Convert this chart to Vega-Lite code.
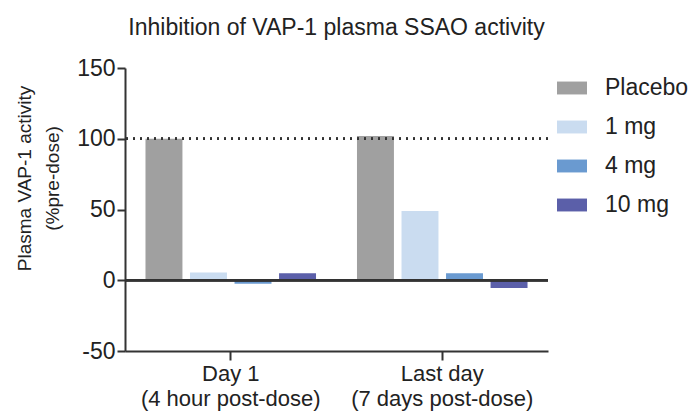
{
  "$schema": "https://vega.github.io/schema/vega-lite/v6.json",
  "width": 423,
  "height": 283,
  "autosize": {"type": "none"},
  "padding": {"left": 125, "top": 68, "right": 146, "bottom": 62},
  "background": "white",
  "title": {
    "text": "Inhibition of VAP-1 plasma SSAO activity",
    "font": "Liberation Sans",
    "fontSize": 23,
    "fontWeight": "normal",
    "color": "#222",
    "anchor": "middle",
    "offset": 17
  },
  "data": {
    "values": [
      {"time": "Day 1|(4 hour post-dose)", "group": "Placebo", "activity": 100},
      {"time": "Day 1|(4 hour post-dose)", "group": "1 mg", "activity": 5.5},
      {"time": "Day 1|(4 hour post-dose)", "group": "4 mg", "activity": -2.5},
      {"time": "Day 1|(4 hour post-dose)", "group": "10 mg", "activity": 5},
      {"time": "Last day|(7 days post-dose)", "group": "Placebo", "activity": 102},
      {"time": "Last day|(7 days post-dose)", "group": "1 mg", "activity": 49},
      {"time": "Last day|(7 days post-dose)", "group": "4 mg", "activity": 5},
      {"time": "Last day|(7 days post-dose)", "group": "10 mg", "activity": -5.5}
    ]
  },
  "config": {
    "view": {"stroke": null},
    "axis": {
      "grid": false,
      "domainColor": "#333",
      "domainWidth": 2,
      "tickColor": "#333",
      "tickWidth": 2,
      "labelFont": "Liberation Sans",
      "labelColor": "#222",
      "titleFont": "Liberation Sans",
      "titleColor": "#222",
      "titleFontWeight": "normal"
    },
    "legend": {
      "labelFont": "Liberation Sans",
      "labelColor": "#222"
    }
  },
  "layer": [
    {
      "mark": {"type": "bar"},
      "encoding": {
        "x": {
          "field": "time",
          "type": "nominal",
          "sort": null,
          "scale": {"paddingInner": 0, "paddingOuter": 0},
          "axis": {
            "title": null,
            "labelAngle": 0,
            "labelExpr": "split(datum.label, '|')",
            "labelFontSize": 22,
            "labelLineHeight": 25,
            "labelPadding": 3,
            "labelLimit": 400,
            "labelOverlap": false,
            "tickSize": 9
          }
        },
        "xOffset": {
          "field": "group",
          "type": "nominal",
          "sort": ["Placebo", "1 mg", "4 mg", "10 mg"],
          "scale": {"paddingInner": 0.17, "paddingOuter": 0.46}
        },
        "y": {
          "field": "activity",
          "type": "quantitative",
          "scale": {"domain": [-50, 150], "nice": false, "zero": false},
          "axis": {
            "values": [-50, 0, 50, 100, 150],
            "labelExpr": "'' + datum.value",
            "title": ["Plasma VAP-1 activity", "(%pre-dose)"],
            "titleFontSize": 19,
            "titleLineHeight": 28,
            "titlePadding": 14,
            "titleY": 110,
            "labelFontSize": 23,
            "labelPadding": 2,
            "tickSize": 8
          }
        },
        "color": {
          "field": "group",
          "type": "nominal",
          "sort": ["Placebo", "1 mg", "4 mg", "10 mg"],
          "scale": {
            "domain": ["Placebo", "1 mg", "4 mg", "10 mg"],
            "range": ["#a0a0a0", "#cadcf0", "#6a9ad0", "#5b5fa9"]
          },
          "legend": {
            "title": null,
            "orient": "none",
            "legendX": 432,
            "legendY": 5,
            "symbolType": "M-1,-0.43H1V0.43H-1Z",
            "symbolSize": 900,
            "symbolStrokeWidth": 0,
            "symbolOpacity": 1,
            "labelFontSize": 23,
            "labelOffset": 18,
            "rowPadding": 12
          }
        }
      }
    },
    {
      "mark": {"type": "rule", "color": "#333", "strokeWidth": 2},
      "encoding": {"y": {"datum": 0}}
    },
    {
      "mark": {"type": "rule", "color": "#333", "strokeWidth": 2, "strokeDash": [2, 5]},
      "encoding": {"y": {"datum": 100}}
    }
  ]
}
